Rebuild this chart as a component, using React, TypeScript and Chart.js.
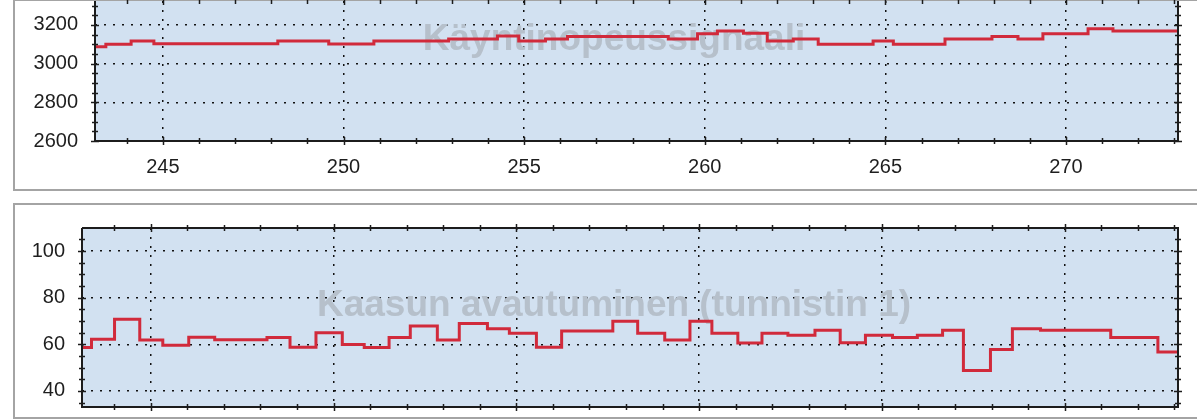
import React, { useEffect, useRef } from "react";
import { Chart, registerables } from "chart.js";

Chart.register(...registerables);

// ---- Data ----
const X_MIN = 243.12;
const X_MAX = 273.1;
const xTickLabels = [245, 250, 255, 260, 265, 270];

// Käyntinopeussignaali (step series: start time, level)
const speedTimes = [243.1, 243.42, 244.12, 244.75, 248.18, 249.59, 250.84, 252.91, 254.26, 254.85, 255.59, 256.2, 258.99, 259.8, 260.35, 261.07, 261.73, 262.45, 263.14, 264.66, 265.22, 266.65, 267.95, 268.67, 269.36, 270.61, 271.3];
const speedValues = [3088, 3100, 3117, 3103, 3117, 3102, 3117, 3128, 3143, 3117, 3128, 3140, 3128, 3154, 3169, 3157, 3117, 3128, 3100, 3117, 3100, 3128, 3140, 3128, 3154, 3180, 3169];
const speedYLabels = [2600, 2800, 3000, 3200];

// Kaasun avautuminen (tunnistin 1)
const throttleTimes = [243.1, 243.38, 244.01, 244.7, 245.33, 246.04, 246.75, 248.18, 248.81, 249.52, 250.24, 250.84, 251.52, 252.1, 252.84, 253.44, 254.21, 254.81, 255.55, 256.24, 257.64, 258.32, 259.06, 259.75, 260.35, 261.06, 261.72, 262.43, 263.17, 263.86, 264.55, 265.29, 265.97, 266.66, 267.23, 267.97, 268.57, 269.34, 271.26, 272.55];
const throttleValues = [58.6, 62.2, 70.8, 61.9, 59.6, 63.0, 62.0, 62.9, 58.7, 65.0, 59.9, 58.6, 62.9, 67.9, 61.9, 68.9, 66.7, 64.7, 58.7, 65.7, 69.9, 64.7, 61.9, 69.9, 64.7, 60.6, 64.7, 63.9, 66.0, 60.7, 63.9, 62.9, 63.9, 66.0, 48.8, 57.8, 66.7, 66.0, 62.9, 56.7];
const throttleYLabels = [40, 60, 80, 100];

const FONT = '"Liberation Sans", Arial, sans-serif';

function stepPoints(times: number[], values: number[], end: number) {
  const pts = times.map((t, i) => ({ x: t, y: values[i] }));
  pts.push({ x: end, y: values[values.length - 1] });
  return pts;
}

const panelPlugin = {
  id: "panel",
  beforeDraw(chart: any) {
    const { ctx, chartArea: a } = chart;
    ctx.save();
    ctx.fillStyle = "#d2e1f1";
    ctx.fillRect(a.left, a.top, a.right - a.left, a.bottom - a.top);
    ctx.restore();
  },
  beforeDatasetsDraw(chart: any, _a: any, opts: any) {
    const { ctx, chartArea: a } = chart;
    ctx.save();
    ctx.font = `bold 37px ${FONT}`;
    ctx.fillStyle = "#b6c0cb";
    ctx.textAlign = "center";
    ctx.textBaseline = "alphabetic";
    ctx.fillText(opts.title, opts.titleX, a.top + opts.titleDy);
    ctx.restore();
  },
  afterDatasetsDraw(chart: any, _a: any, opts: any) {
    const { ctx, chartArea: a } = chart;
    const xs = chart.scales.x;
    const ys = chart.scales.y;
    ctx.save();
    ctx.strokeStyle = "#1c1c1c";
    ctx.lineWidth = 1.5;
    ctx.beginPath();
    for (const t of xs.ticks) {
      const px = Math.round(xs.getPixelForValue(t.value)) + 0.5;
      const big = xTickLabels.includes(t.value);
      const l = big ? 4 : 3;
      ctx.moveTo(px, a.bottom - l);
      ctx.lineTo(px, a.bottom + l);
      ctx.moveTo(px, a.top - l);
      ctx.lineTo(px, a.top + l);
    }
    for (const t of ys.ticks) {
      const py = Math.round(ys.getPixelForValue(t.value)) + 0.5;
      const big = opts.yLabels.includes(t.value);
      const l = big ? 4 : 3;
      ctx.moveTo(a.left - l, py);
      ctx.lineTo(a.left + l, py);
      ctx.moveTo(a.right - l, py);
      ctx.lineTo(a.right + l, py);
    }
    ctx.stroke();
    ctx.lineWidth = 2;
    ctx.beginPath();
    ctx.moveTo(a.left, a.top);
    ctx.lineTo(a.left, a.bottom);
    ctx.lineTo(a.right, a.bottom);
    ctx.lineTo(a.right, a.top);
    if (opts.topEdge) ctx.lineTo(a.left, a.top);
    ctx.stroke();
    ctx.restore();
  },
};

interface PanelProps {
  times: number[];
  values: number[];
  yMin: number;
  yMax: number;
  yStep: number;
  yLabels: number[];
  yWidth: number;
  xHeight: number;
  padTop: number;
  showX: boolean;
  title: string;
  titleDy: number;
  topEdge: boolean;
  width: number;
  height: number;
  style: React.CSSProperties;
}

function zeroPad(s: any) {
  s.paddingTop = 0;
  s.paddingBottom = 0;
  s.paddingLeft = 0;
  s.paddingRight = 0;
}

function ChartPanel(p: PanelProps) {
  const ref = useRef<HTMLCanvasElement | null>(null);
  useEffect(() => {
    if (!ref.current) return;
    const pts = stepPoints(p.times, p.values, X_MAX);
    const gridColor = (labels: number[]) => (c: any) =>
      c.tick && labels.includes(c.tick.value) ? "#111" : "rgba(0,0,0,0)";
    const chart = new Chart(ref.current, {
      type: "line",
      data: {
        datasets: [
          {
            data: pts,
            stepped: true,
            borderColor: "#d12a3b",
            borderWidth: 3,
            pointRadius: 0,
            fill: false,
          },
          {
            data: pts,
            stepped: true,
            borderColor: "#fce6e9",
            borderWidth: 1.2,
            borderDash: [1.5, 2.2],
            pointRadius: 0,
            fill: false,
          },
        ],
      },
      options: {
        animation: false,
        responsive: false,
        events: [],
        layout: { autoPadding: false, padding: { top: p.padTop, right: 19, left: 0, bottom: 0 } },
        plugins: {
          legend: { display: false },
          tooltip: { enabled: false },
          panel: { title: p.title, titleX: 614, titleDy: p.titleDy, yLabels: p.yLabels, topEdge: p.topEdge },
        } as any,
        scales: {
          x: {
            type: "linear",
            min: X_MIN,
            max: X_MAX,
            afterFit: (s: any) => {
              s.height = p.xHeight;
              zeroPad(s);
            },
            border: { display: false, dash: [2, 7] },
            grid: {
              color: gridColor(xTickLabels),
              lineWidth: 1.5,
              drawTicks: false,
            },
            ticks: {
              display: p.showX,
              stepSize: 1,
              includeBounds: false,
              autoSkip: false,
              maxRotation: 0,
              padding: 14,
              color: "#1e1e1e",
              font: { family: FONT, size: 20 },
              callback: (v: any) => (xTickLabels.includes(v) ? String(v) : ""),
            },
          },
          y: {
            type: "linear",
            min: p.yMin,
            max: p.yMax,
            afterFit: (s: any) => {
              s.width = p.yWidth;
              zeroPad(s);
            },
            border: { display: false, dash: [2, 7] },
            grid: {
              color: gridColor(p.yLabels),
              lineWidth: 1.5,
              drawTicks: false,
            },
            ticks: {
              stepSize: p.yStep,
              includeBounds: false,
              autoSkip: false,
              padding: 17,
              color: "#1e1e1e",
              font: { family: FONT, size: 20 },
              callback: (v: any) => (p.yLabels.includes(v) ? String(v) : ""),
            },
          },
        },
      },
      plugins: [panelPlugin as any],
    });
    return () => chart.destroy();
  }, []);
  return <canvas ref={ref} width={p.width} height={p.height} style={p.style} />;
}

export default function App() {
  return (
    <div style={{ position: "fixed", left: 0, top: 0, width: 1197, height: 420, overflow: "hidden", background: "#fff" }}>
      <div style={{ position: "absolute", left: 13, top: -1, width: 1230, height: 192, border: "2px solid #a4a4a4", boxSizing: "border-box" }} />
      <div style={{ position: "absolute", left: 13, top: 203, width: 1230, height: 216, border: "2px solid #a4a4a4", boxSizing: "border-box" }} />
      <ChartPanel
        times={speedTimes}
        values={speedValues}
        yMin={2600}
        yMax={3324}
        yStep={50}
        yLabels={speedYLabels}
        yWidth={95}
        xHeight={49}
        padTop={1}
        showX={true}
        title="Käyntinopeussignaali"
        titleDy={49}
        topEdge={false}
        width={1197}
        height={190}
        style={{ position: "absolute", left: 0, top: 0, display: "block" }}
      />
      <ChartPanel
        times={throttleTimes}
        values={throttleValues}
        yMin={33.1}
        yMax={109.9}
        yStep={5}
        yLabels={throttleYLabels}
        yWidth={82}
        xHeight={13}
        padTop={23}
        showX={false}
        title="Kaasun avautuminen (tunnistin 1)"
        titleDy={88}
        topEdge={true}
        width={1197}
        height={215}
        style={{ position: "absolute", left: 0, top: 205, display: "block" }}
      />
    </div>
  );
}
